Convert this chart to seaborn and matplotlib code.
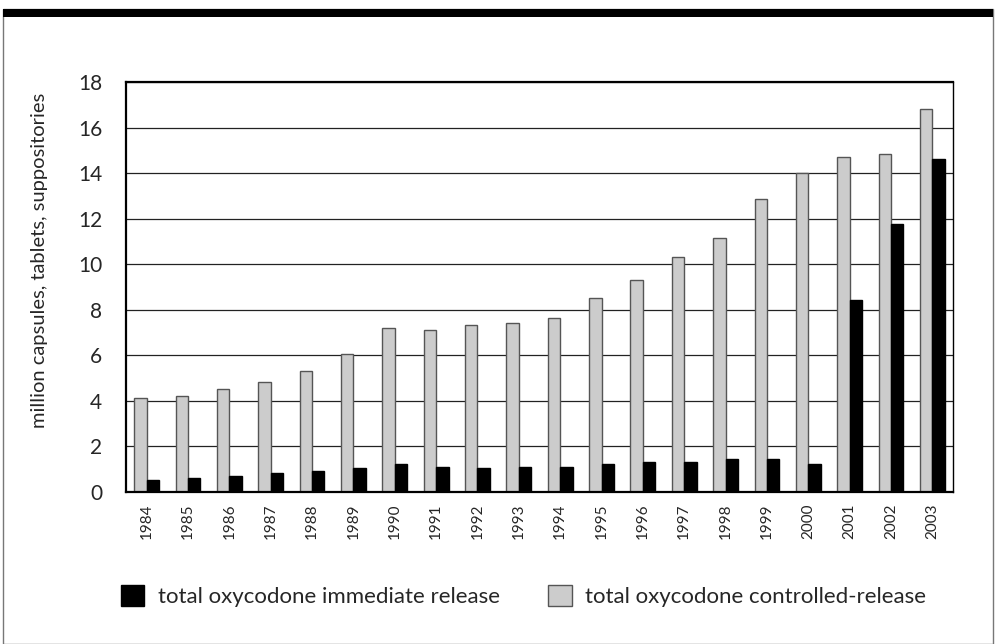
import matplotlib
matplotlib.use("Agg")
import matplotlib.pyplot as plt
import seaborn as sns
import pandas as pd
import numpy as np
from matplotlib.patches import Patch, Rectangle

years = [str(y) for y in range(1984, 2004)]
controlled = [4.13, 4.23, 4.51, 4.83, 5.33, 6.05, 7.22, 7.12, 7.32, 7.42, 7.62,
              8.52, 9.32, 10.3, 11.15, 12.85, 14.0, 14.72, 14.82, 16.82]
immediate = [0.51, 0.61, 0.72, 0.82, 0.94, 1.04, 1.22, 1.10, 1.04, 1.10, 1.10,
             1.22, 1.33, 1.33, 1.44, 1.44, 1.22, 8.44, 11.75, 14.6]
series = ["total oxycodone controlled-release", "total oxycodone immediate release"]
ylabel = "million capsules, tablets, suppositories"

df = pd.DataFrame({
    "year": years * 2,
    "value": controlled + immediate,
    "series": [series[0]] * len(years) + [series[1]] * len(years),
})

sns.set_theme(style="white")
plt.rcParams['font.family'] = ['Lato', 'DejaVu Sans']

fig = plt.figure(figsize=(9.96, 6.44), dpi=100)
ax = fig.add_axes([126/996, 1 - 492/644, (953-126)/996, (492-82)/644])

palette = {series[0]: "#cccccc", series[1]: "#000000"}
sns.barplot(data=df, x="year", y="value", hue="series", hue_order=series,
            palette=palette, width=0.6, dodge=True, ax=ax, legend=False,
            saturation=1)
for i, cont in enumerate(ax.containers):
    for bar in cont:
        if i == 0:
            bar.set_edgecolor("#555555")
        else:
            bar.set_edgecolor("#000000")
        bar.set_linewidth(1.0)

ax.set_ylim(0, 18)
ax.set_xlim(-0.5, len(years) - 0.5)
ax.set_yticks(np.arange(0, 19, 2))
ax.yaxis.grid(True, color="#222222", linewidth=0.9)
ax.set_axisbelow(True)
ax.tick_params(axis="y", length=0, pad=17, labelsize=15)
ax.set_xticks(np.arange(-0.5, len(years), 1.0))
ax.set_xticklabels([])
ax.tick_params(axis="x", which="major", length=8, width=1.2, direction="out", color="black")
ax.set_xticks(np.arange(len(years)), minor=True)
ax.set_xticklabels(years, minor=True, rotation=90, fontsize=11)
ax.tick_params(axis="x", which="minor", length=0, pad=8)
ax.set_xlabel("")
ax.set_ylabel("")
fig.text(40/996, 1 - 260/644, ylabel, rotation=90, ha="center", va="center", fontsize=14.5)
for s in ["left", "bottom", "top"]:
    ax.spines[s].set_color("black")
    ax.spines[s].set_linewidth(1.6)
ax.spines["right"].set_color("black")
ax.spines["right"].set_linewidth(1.0)

handles = [Patch(facecolor="#000000", edgecolor="#000000", label=series[1]),
           Patch(facecolor="#cccccc", edgecolor="#555555", label=series[0])]
fig.legend(handles=handles, loc="center", bbox_to_anchor=(523.5/996, 1 - 596/644),
           ncol=2, frameon=False, fontsize=16, handlelength=1.04, handleheight=1.04,
           columnspacing=2.2, handletextpad=0.6)

# outer frame and top band
fig.patches.append(Rectangle((3/996, 0), 990/996, 1 - 9/644, transform=fig.transFigure,
                             fill=False, edgecolor="#777777", linewidth=1.0))
fig.patches.append(Rectangle((3/996, 1 - 17/644), 990/996, 8/644, transform=fig.transFigure,
                             facecolor="black", edgecolor="black", linewidth=0))

fig.savefig("out.png", dpi=100)
